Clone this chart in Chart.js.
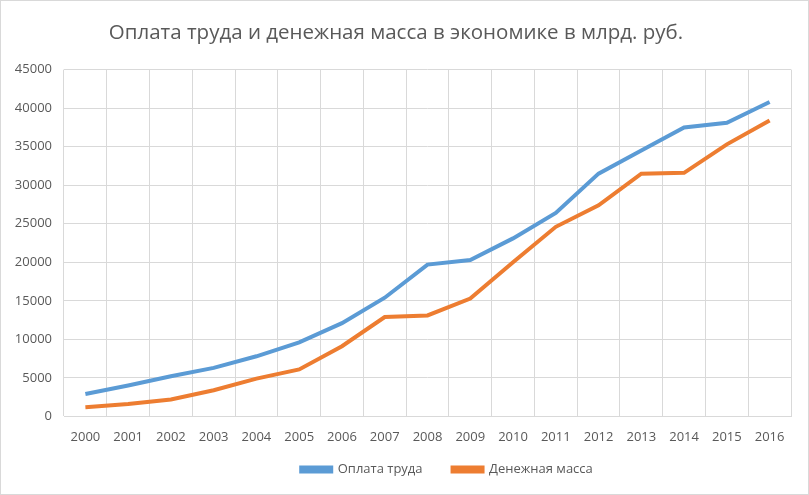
<!DOCTYPE html>
<html>
<head>
<meta charset="utf-8">
<script src="https://cdn.jsdelivr.net/npm/chart.js@4.4.1/dist/chart.umd.min.js"></script>
<style>
  html, body { margin: 0; padding: 0; background: #fff; }
  #wrap { width: 807px; height: 493px; border: 1px solid #d9d9d9; }
</style>
</head>
<body>
<div id="wrap"><canvas id="chart" width="807" height="493"></canvas></div>
<script>
// years on the x axis
const years = ['2000', '2001', '2002', '2003', '2004', '2005', '2006', '2007', '2008',
    '2009', '2010', '2011', '2012', '2013', '2014', '2015', '2016'];

// Оплата труда, млрд. руб.
const wages = [2900, 4000, 5200, 6300, 7800, 9600, 12100, 15400, 19700,
    20300, 23100, 26400, 31500, 34500, 37500, 38100, 40800];

// Денежная масса, млрд. руб.
const moneySupply = [1200, 1600, 2200, 3400, 4900, 6100, 9100, 12900, 13100,
    15300, 20000, 24600, 27400, 31500, 31600, 35300, 38400];

const textColor = '#595959';
const gridColor = '#d9d9d9';
const fontFamily = "'Open Sans', 'Noto Sans', sans-serif";

// legend padding is both the gap between items and the space above them,
// so the height is capped and the top edge pulled back up after layout
// (bottom stays put so the clip box still holds the items)
const legendNudge = {
    id: 'legendNudge',
    afterLayout(chart) {
        const lg = chart.legend;
        lg.top -= 25;
        lg.left += 51;
        lg.right += 51;
    }
};

new Chart(document.getElementById('chart'), {
    type: 'line',
    data: {
        labels: years,
        datasets: [
            {
                label: 'Оплата труда',
                data: wages,
                borderColor: '#5b9bd5',
                backgroundColor: '#5b9bd5',
                borderWidth: 4,
                pointRadius: 0,
                tension: 0
            },
            {
                label: 'Денежная масса',
                data: moneySupply,
                borderColor: '#ed7d31',
                backgroundColor: '#ed7d31',
                borderWidth: 4,
                pointRadius: 0,
                tension: 0
            }
        ]
    },
    plugins: [legendNudge],
    options: {
        responsive: false,
        animation: false,
        layout: { padding: { left: 0, right: 17, top: 10, bottom: 8 } },
        plugins: {
            title: {
                display: true,
                text: 'Оплата труда и денежная масса в экономике в млрд. руб.',
                color: textColor,
                font: { family: fontFamily, size: 20.5, weight: 'normal' },
                padding: { top: 10, bottom: 24 }
            },
            legend: {
                position: 'bottom',
                maxHeight: 28,
                labels: {
                    color: textColor,
                    font: { family: fontFamily, size: 13 },
                    boxWidth: 30,
                    boxHeight: 4,
                    padding: 30
                }
            },
            tooltip: { enabled: false }
        },
        scales: {
            x: {
                offset: true,
                grid: { offset: true, color: gridColor, drawTicks: false },
                border: { color: gridColor },
                ticks: {
                    color: textColor,
                    font: { family: fontFamily, size: 13 },
                    padding: 13,
                    maxRotation: 0
                }
            },
            y: {
                min: 0,
                max: 45000,
                afterFit(scale) { scale.width = 63; },
                grid: { color: gridColor, drawTicks: false },
                border: { display: false },
                ticks: {
                    stepSize: 5000,
                    color: textColor,
                    font: { family: fontFamily, size: 13 },
                    padding: 12,
                    callback: value => String(value)
                }
            }
        }
    }
});
</script>
</body>
</html>
